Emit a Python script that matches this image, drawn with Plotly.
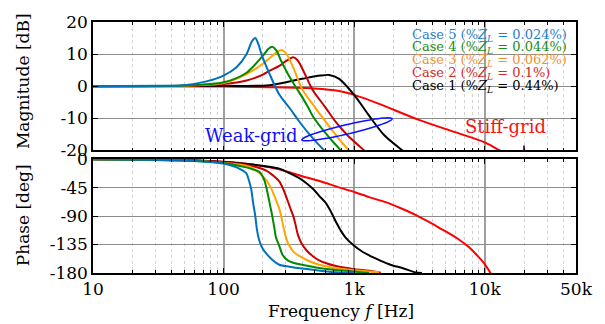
import math
import plotly.graph_objects as go

# ---------------- data ----------------
# Magnitude [dB]
f5_mag = [10, 30, 50, 74, 100, 125, 149, 165, 175, 185, 195, 224, 267, 320, 380, 450, 590, 650]
m5 = [0, 0.1, 0.3, 1.5, 3.3, 5.8, 9.8, 14.0, 15.0, 13.0, 10.0, 4.0, -2.6, -6.8, -11.0, -14.8, -20, -21.5]
f4_mag = [10, 50, 100, 150, 200, 220, 236, 255, 275, 300, 319, 360, 400, 450, 480, 600, 790, 860]
m4 = [0, 0.2, 1.2, 4.2, 9.5, 11.6, 12.3, 11.0, 8.0, 5.0, 3.0, -0.5, -3.4, -7.0, -9.2, -14.5, -20, -21.5]
f3_mag = [10, 50, 100, 150, 200, 250, 276, 300, 340, 403, 500, 608, 750, 916, 1000]
m3 = [0, 0.15, 1.0, 3.8, 7.0, 10.3, 11.3, 10.3, 6.0, -1.2, -6.5, -11.2, -16, -20, -21.5]
f2_mag = [10, 50, 100, 150, 200, 224, 267, 300, 342, 370, 403, 481, 600, 725, 900, 1192, 1300]
m2 = [0, 0.1, 0.7, 1.8, 3.6, 4.8, 6.3, 7.8, 9.0, 8.0, 5.3, -1.2, -6.5, -11.2, -15.5, -20, -21.5]
f1_mag = [10, 100, 224, 400, 550, 644, 768, 1000, 1302, 1694, 2339, 2600]
m1 = [0, 0.1, 0.3, 2.3, 3.3, 3.5, 2.3, -2.7, -9.2, -15.2, -20, -21.5]
fs_mag = [10, 100, 224, 495, 768, 1000, 1553, 3134, 6340, 10000, 13000, 14000]
ms = [0, -0.1, -0.3, -0.7, -1.5, -2.7, -5.5, -10.5, -14.7, -17.5, -20, -20.7]
spike_f = [20000, 20000]
spike_db = [-20, -18.5]

# Phase [deg]
f5_ph = [10, 50, 100, 118, 132, 149, 156, 163, 168, 175, 180, 188, 200, 212, 238, 267, 320, 401, 550, 725, 1000]
p5 = [0, -2, -7, -11, -15, -22, -33, -48, -68, -90, -111, -129, -142, -149, -160, -167, -170, -173, -176.5, -179, -180]
f4_ph = [10, 50, 100, 149, 167, 188, 205, 217, 227, 236, 245, 252, 267, 284, 310, 358, 450, 540, 700, 970, 1300]
p4 = [0, -2, -6, -13, -16, -20, -33, -53, -73, -90, -109, -124, -137, -152, -160, -165, -169, -172, -175, -177.5, -180]
f3_ph = [10, 50, 100, 158, 206, 230, 245, 258, 267, 276, 292, 305, 319, 345, 380, 450, 540, 700, 916, 1553]
p3 = [0, -2, -6, -12, -30, -45, -58, -70, -78, -90, -114, -128, -137, -147, -153, -161, -167, -172, -175, -179]
f2_ph = [10, 50, 100, 149, 212, 240, 267, 290, 306, 325, 342, 357, 370, 395, 431, 480, 540, 620, 725, 1000, 1302, 1600]
p2 = [0, -1.5, -5, -9, -18, -26, -35, -50, -63, -78, -90, -105, -119, -133, -144, -153, -160, -165, -169, -174, -176.5, -179.5]
f1_ph = [10, 50, 100, 160, 224, 267, 319, 380, 431, 490, 540, 600, 644, 690, 725, 790, 860, 1000, 1150, 1302, 1500, 1740, 2000, 2339, 2950, 3300]
p1 = [0, -1, -4.5, -8, -12, -15, -22, -30, -38, -48, -58, -68, -78, -90, -99, -113, -124, -137, -146, -152, -158, -164, -168.5, -172, -179, -180]
fs_ph = [10, 50, 100, 160, 224, 300, 401, 550, 725, 1000, 1300, 1740, 2300, 2950, 3800, 4700, 5500, 6340, 7550, 9000, 10000, 11070, 12000]
ps = [0, -2, -4, -8, -13, -19, -27, -35, -43, -52, -60, -68, -78, -88, -100, -111, -119, -127, -139, -155, -166, -180, -190]

x_tickvals = [10, 100, 1000, 10000, 50000]
x_ticktext = ["10", "100", "1k", "10k", "50k"]
mag_ticks = [20, 10, 0, -10, -20]
mag_text = ["20", "10", "0", "-10", "-20"]
ph_ticks = [0, -45, -90, -135, -180]
ph_text = ["0", "-45", "-90", "-135", "-180"]
minor_vals = [m * 10 ** d for d in range(1, 5) for m in range(2, 10) if m * 10 ** d < 50000]

legend_labels = ["Case 5 (%<i>Z</i><sub><i>L</i></sub> = 0.024%)",
                 "Case 4 (%<i>Z</i><sub><i>L</i></sub> = 0.044%)",
                 "Case 3 (%<i>Z</i><sub><i>L</i></sub> = 0.062%)",
                 "Case 2 (%<i>Z</i><sub><i>L</i></sub> = 0.1%)",
                 "Case 1 (%<i>Z</i><sub><i>L</i></sub> = 0.44%)"]

# ---------------- styling ----------------
C5, C4, C3, C2, C1, CS = "#0072BD", "#008A00", "#FFA500", "#C80000", "#000000", "#FF0000"
TXT = ["#1f80cf", "#1a8c1a", "#f39033", "#d02828", "#000000"]
FONT = "DejaVu Serif"
FS = 0.84   # size factor: DejaVu Serif is wider than Times
W, H = 605, 324
ML, MR, MT, MB = 93, 28, 13, 51
PW, PH = W - ML - MR, H - MT - MB

fig = go.Figure()
mag_series = [(fs_mag, ms, CS), (f1_mag, m1, C1), (f2_mag, m2, C2),
              (f3_mag, m3, C3), (f4_mag, m4, C4), (f5_mag, m5, C5)]
ph_series = [(fs_ph, ps, CS), (f1_ph, p1, C1), (f2_ph, p2, C2),
             (f3_ph, p3, C3), (f4_ph, p4, C4), (f5_ph, p5, C5)]
for fx, v, c in mag_series:
    fig.add_trace(go.Scatter(x=fx, y=v, mode="lines", xaxis="x", yaxis="y",
                             line=dict(color=c, width=2, shape="spline", smoothing=0.8),
                             showlegend=False, hoverinfo="skip"))
fig.add_trace(go.Scatter(x=spike_f, y=spike_db, mode="lines", xaxis="x", yaxis="y",
                         line=dict(color="#8000a0", width=2), showlegend=False))
for fx, v, c in ph_series:
    fig.add_trace(go.Scatter(x=fx, y=v, mode="lines", xaxis="x2", yaxis="y2",
                             line=dict(color=c, width=2, shape="spline", smoothing=0.8),
                             showlegend=False, hoverinfo="skip"))

xcommon = dict(type="log", range=[1, math.log10(50000)], tickmode="array",
               tickvals=x_tickvals, ticktext=x_ticktext,
               showgrid=True, gridcolor="#a0a0a0", gridwidth=2,
               showline=True, linecolor="black", linewidth=1.5, mirror="allticks",
               ticks="inside", ticklen=5, tickcolor="black", zeroline=False,
               minor=dict(tickmode="array", tickvals=minor_vals, ticks="inside", ticklen=3,
                          tickcolor="black", showgrid=True, gridcolor="#d2d2d2",
                          griddash="dot", gridwidth=1),
               tickfont=dict(family=FONT, size=round(20 * FS), color="black"))
ycommon = dict(showgrid=True, gridcolor="#8c8c8c", gridwidth=1, zeroline=False,
               showline=True, linecolor="black", linewidth=1.5, mirror="allticks",
               ticks="inside", ticklen=5, tickcolor="black", tickmode="array",
               tickfont=dict(family=FONT, size=round(20 * FS), color="black"))

fig.update_layout(
    width=W, height=H, margin=dict(l=ML, r=MR, t=MT, b=MB),
    paper_bgcolor="white", plot_bgcolor="white",
    font=dict(family=FONT, color="black"),
    xaxis=dict(xcommon, anchor="y", showticklabels=False, domain=[0, 1]),
    xaxis2=dict(xcommon, anchor="y2", matches="x", domain=[0, 1]),
    yaxis=dict(ycommon, domain=[0.4885, 1], range=[-20, 20],
               tickvals=mag_ticks, ticktext=mag_text, anchor="x"),
    yaxis2=dict(ycommon, domain=[0, 0.4535], range=[-180, 0],
                tickvals=ph_ticks, ticktext=ph_text, anchor="x2"),
)

def px(X):
    return (X - ML) / PW

def py(Y):
    return (H - MB - Y) / PH

ann = []
leg_y = [26.5, 39.8, 53.1, 66.4, 79.7]
for lab, col, yy in zip(legend_labels, TXT, leg_y):
    ann.append(dict(text=lab, x=px(411), y=py(yy), xref="paper", yref="paper",
                    xanchor="left", yanchor="middle", showarrow=False,
                    font=dict(family=FONT, size=round(16 * FS), color=col)))
ann.append(dict(text="Magnitude [dB]", x=px(23), y=py(74), xref="paper", yref="paper",
                textangle=-90, showarrow=False, xanchor="center", yanchor="middle",
                font=dict(family=FONT, size=round(20 * FS), color="black")))
ann.append(dict(text="Phase [deg]", x=px(23), y=py(213), xref="paper", yref="paper",
                textangle=-90, showarrow=False, xanchor="center", yanchor="middle",
                font=dict(family=FONT, size=round(20 * FS), color="black")))
ann.append(dict(text="Frequency <i>f</i> [Hz]", x=px(342), y=py(312), xref="paper", yref="paper",
                showarrow=False, xanchor="center", yanchor="middle",
                font=dict(family=FONT, size=round(20 * FS), color="black")))
ann.append(dict(text="Weak-grid", x=px(252), y=py(131), xref="paper", yref="paper",
                showarrow=False, xanchor="center", yanchor="middle",
                font=dict(family=FONT, size=round(21 * FS), color="#1010ff")))
ann.append(dict(text="Stiff-grid", x=px(506), y=py(121.5), xref="paper", yref="paper",
                showarrow=False, xanchor="center", yanchor="middle",
                font=dict(family=FONT, size=round(21 * FS), color="#ff1010")))
fig.update_layout(annotations=ann)

# Rotated ellipse around the weak-grid curves
cx, cy, a, b = 347.5, 124.2, 46.5, 4.8
th = math.atan2(-21.7, 89.6)
pts = []
for k in range(73):
    t = 2 * math.pi * k / 72
    ex = a * math.cos(t)
    ey = b * math.sin(t)
    X = cx + ex * math.cos(th) - ey * math.sin(th)
    Y = cy + ex * math.sin(th) + ey * math.cos(th)
    pts.append((px(X), py(Y)))
path = "M " + " L ".join(f"{u:.5f},{v:.5f}" for u, v in pts) + " Z"
fig.add_shape(type="path", path=path, xref="paper", yref="paper",
              line=dict(color="#1010ff", width=1.5))

fig.write_html("out.html")
